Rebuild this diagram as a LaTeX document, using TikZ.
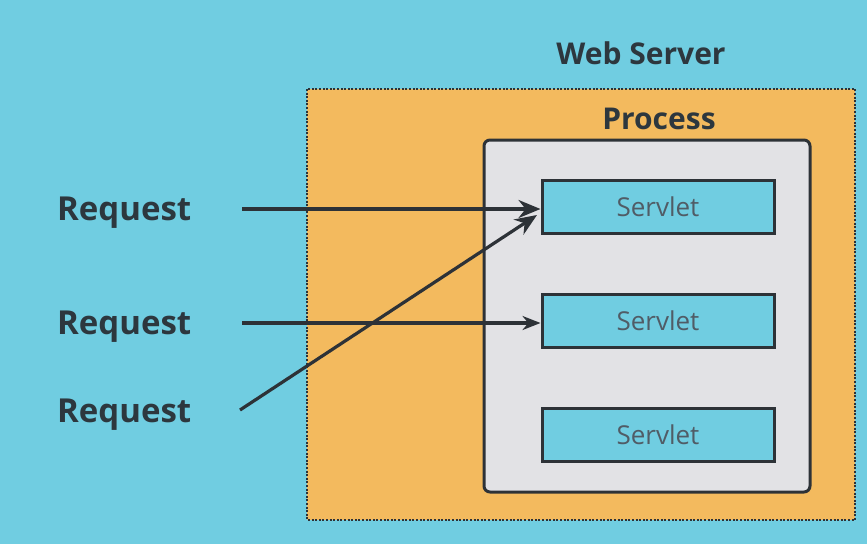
\documentclass[tikz,border=0pt]{standalone}
\usepackage{fontspec}
\setmainfont{Open Sans}
\usetikzlibrary{arrows.meta}
\definecolor{bgcyan}{RGB}{112,205,225}
\definecolor{orangefill}{RGB}{243,186,94}
\definecolor{procfill}{RGB}{226,226,229}
\definecolor{darkline}{RGB}{45,50,55}
\definecolor{darktext}{RGB}{45,55,62}
\definecolor{servtext}{RGB}{80,92,102}
\tikzset{
  labeltext/.style={font=\fontsize{33}{37}\selectfont\bfseries, text=darktext, inner sep=0pt},
  titletext/.style={font=\fontsize{30}{34}\selectfont\bfseries, text=darktext, inner sep=0pt},
  servletbox/.style={draw=darkline, line width=3pt, fill=bgcyan, minimum width=232pt, minimum height=53pt, inner sep=0pt, font=\fontsize{26}{30}\selectfont, text=servtext},
  arr/.style={draw=darkline, line width=3.2pt, -{Stealth[length=22pt,width=18pt]}},
  arrsmall/.style={draw=darkline, line width=3.2pt, -{Stealth[length=18pt,width=14pt]}}
}
\begin{document}
\begin{tikzpicture}[x=1pt,y=-1pt]
\useasboundingbox (0,0) rectangle (867,544);
\fill[bgcyan] (0,0) rectangle (867,544);
% web server box
\draw[fill=orangefill, draw=darkline, line width=2.2pt, dash pattern=on 2pt off 1.6pt] (307,89) rectangle (855,520);
\node[titletext] (ws) at (641,53) {Web Server};
\node[titletext] (proc) at (659,119) {Process};
% process box
\draw[fill=procfill, draw=darkline, line width=3pt, rounded corners=6pt] (484,140) rectangle (810,492);
\node[servletbox] (s1) at (658,206.5) {Servlet};
\node[servletbox] (s2) at (658,321) {Servlet};
\node[servletbox] (s3) at (658,434.5) {Servlet};
% requests
\node[labeltext, anchor=west] (r1) at (57,213) {Request};
\node[labeltext, anchor=west] (r2) at (57,327) {Request};
\node[labeltext, anchor=west] (r3) at (57,415) {Request};
\coordinate (a1) at (242,209);
\coordinate (a2) at (242,323);
\coordinate (a3) at (240,410);
\coordinate (t3) at (537,215);
\draw[arr] (a1) -- (a1 -| s1.west);
\draw[arrsmall] (a2) -- (a2 -| s2.west);
\draw[arr] (a3) -- (t3);
\end{tikzpicture}
\end{document}
